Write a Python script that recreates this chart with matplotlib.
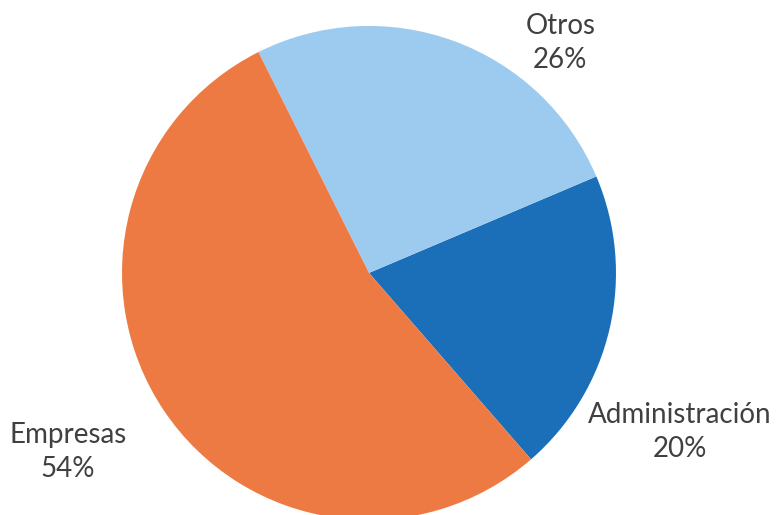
import matplotlib
matplotlib.use("Agg")
import matplotlib.pyplot as plt

labels = ["Administración", "Otros", "Empresas"]
values = [20, 26, 54]
colors = ["#1a6fb8", "#9dcbef", "#ee7a43"]

# label text positions (data units, pie radius = 1)
label_pos = {"Administración": (1.26, -0.645), "Otros": (0.775, 0.93), "Empresas": (-1.22, -0.725)}

plt.rcParams['font.family'] = ['Lato', 'DejaVu Sans']

fig = plt.figure(figsize=(7.78, 5.15), dpi=100)
ax = fig.add_axes([0, 0, 1, 1])

ax.pie(values, colors=colors, startangle=-49, counterclock=True,
       wedgeprops={'linewidth': 0})

for name, v in zip(labels, values):
    x, y = label_pos[name]
    ax.text(x, y, f"{name}\n{v}%", ha='center', va='center', fontsize=20,
            color='#404040', linespacing=1.4)

ax.set_xlim(-1.494, 1.656)
ax.set_ylim(-0.98, 1.105)
ax.set_aspect('equal')
ax.axis('off')

fig.savefig("out.png", dpi=100)
